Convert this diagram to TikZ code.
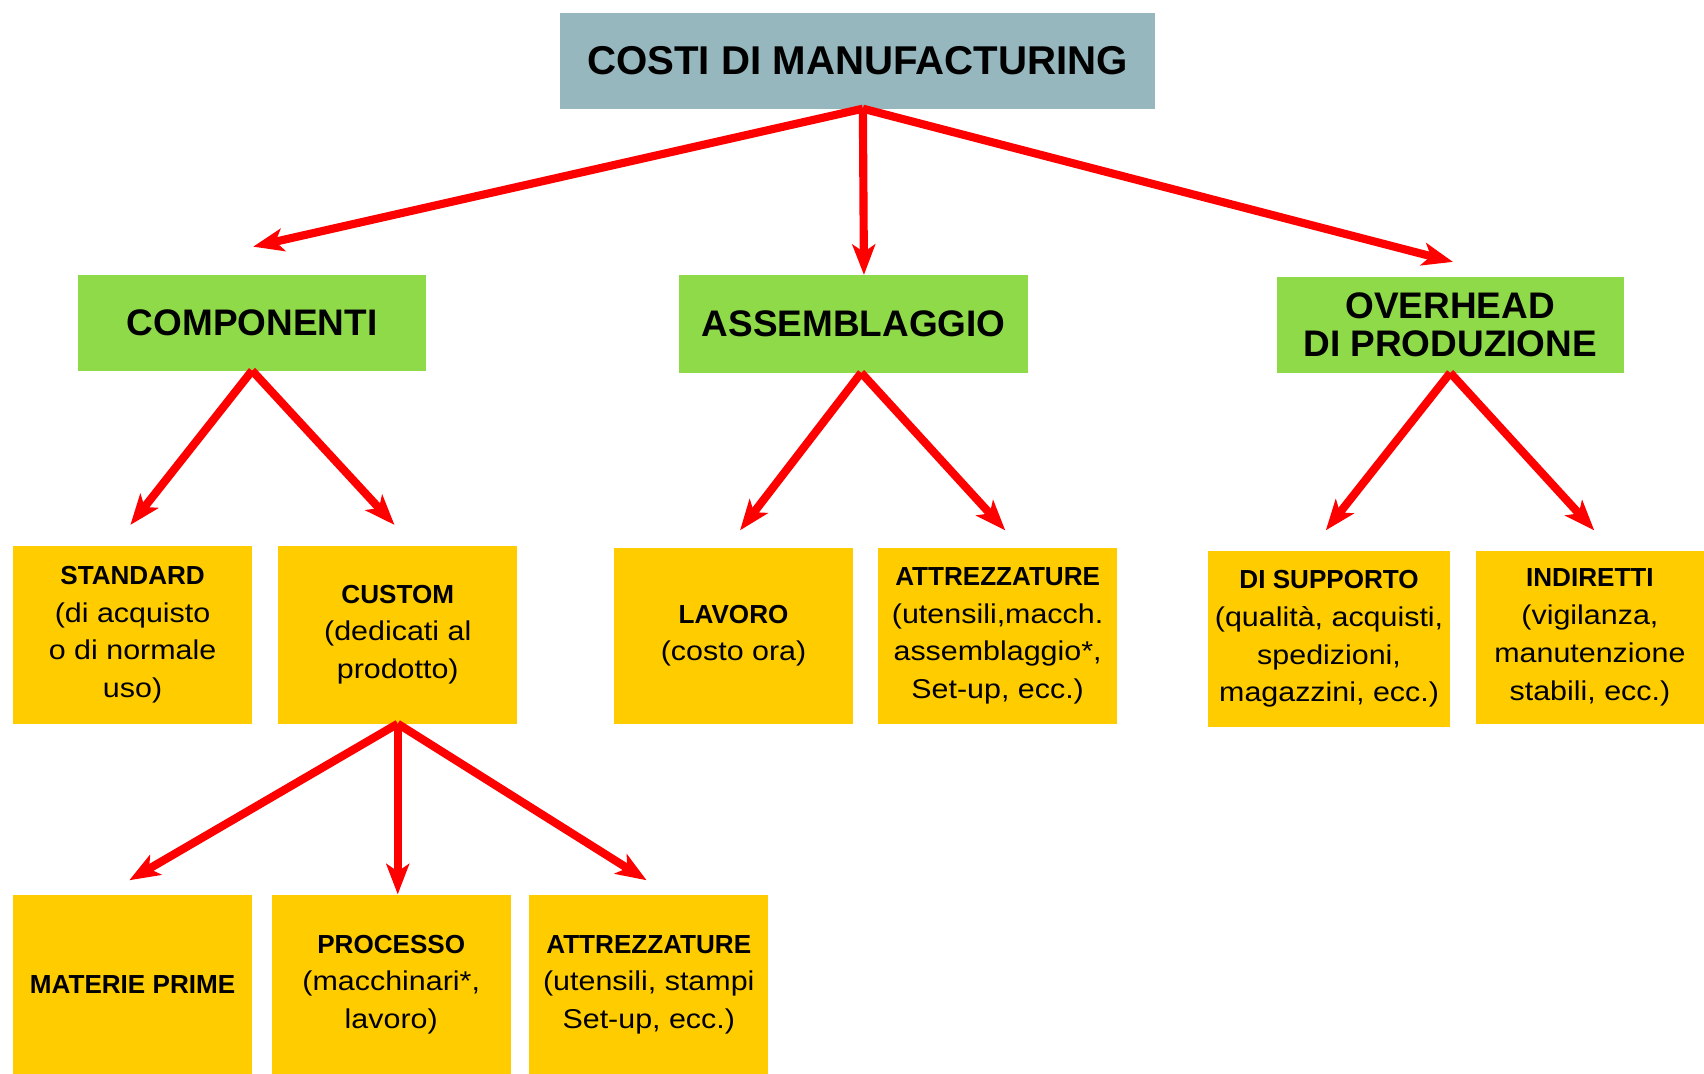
\documentclass[tikz,border=0pt]{standalone}
\usepackage{fontspec}
\setmainfont{Liberation Sans}
\newfontfamily\bodyf[FakeStretch=1.12]{Liberation Sans}
\usetikzlibrary{arrows.meta}
\definecolor{topc}{RGB}{149,183,189}
\definecolor{greenc}{RGB}{142,218,72}
\definecolor{yellowc}{RGB}{255,204,0}
\definecolor{redc}{RGB}{255,0,0}
\tikzset{
  base/.style={inner sep=0pt, outer sep=0pt, align=center, text=black},
  topbox/.style={base, fill=topc, font=\bfseries\fontsize{37}{40}\selectfont},
  greenbox/.style={base, fill=greenc, minimum height=88pt, font=\bfseries\fontsize{34}{34.5}\selectfont},
  yellowbox/.style={base, fill=yellowc, minimum width=220pt, minimum height=162pt, font=\bodyf\fontsize{25}{34.7}\selectfont},
  conn/.style={draw=redc, line width=7.5pt, -{Stealth[length=28pt,width=21pt,inset=7pt]}},
}
\newcommand{\ttl}[1]{{\normalfont\bfseries\fontsize{24}{34.7}\selectfont #1}}
\begin{document}
\begin{tikzpicture}[x=1pt,y=-1pt]
\useasboundingbox (0,0) rectangle (1568,988);
% top
\node[topbox, minimum width=548pt, minimum height=88pt] (top) at (789,56) {COSTI DI MANUFACTURING};
% level 1
\node[greenbox, minimum width=320pt] (comp) at (232,297) {COMPONENTI};
\node[greenbox, minimum width=321pt, minimum height=90pt] (assem) at (785.5,298) {ASSEMBLAGGIO};
\node[greenbox, minimum width=319pt] (over) at (1334.5,299) {OVERHEAD\\DI PRODUZIONE};
% level 2
\node[yellowbox, minimum height=164pt] (std) at (122,584) {\ttl{STANDARD}\\(di acquisto\\o di normale\\uso)};
\node[yellowbox, minimum height=164pt] (cust) at (366,584) {\ttl{CUSTOM}\\(dedicati al\\prodotto)};
\node[yellowbox] (lav) at (675,585) {\ttl{LAVORO}\\(costo ora)};
\node[yellowbox] (attra) at (918,585) {\ttl{ATTREZZATURE}\\(utensili,macch.\\assemblaggio*,\\Set-up, ecc.)};
\node[yellowbox, minimum width=222pt] (supp) at (1223,588) {\ttl{DI SUPPORTO}\\(qualità, acquisti,\\spedizioni,\\magazzini, ecc.)};
\node[yellowbox, minimum width=210pt, minimum height=159pt] (ind) at (1463,586.5) {\ttl{INDIRETTI}\\(vigilanza,\\manutenzione\\stabili, ecc.)};
% level 3
\node[yellowbox, minimum height=164pt] (mat) at (122,906) {\ttl{MATERIE PRIME}};
\node[yellowbox, minimum height=164pt] (proc) at (360,906) {\ttl{PROCESSO}\\(macchinari*,\\lavoro)};
\node[yellowbox, minimum height=164pt] (attrb) at (597,906) {\ttl{ATTREZZATURE}\\(utensili, stampi\\Set-up, ecc.)};
% connector origins and tips
\coordinate (o0) at ([xshift=5pt]top.south);
\coordinate (t1) at (233,227);
\coordinate (t2) at ([xshift=9.5pt]assem.north);
\coordinate (t3) at (1337,241);
\coordinate (c1) at (120,483);
\coordinate (c2) at (363,483);
\coordinate (a1) at (681,488);
\coordinate (a2) at (925,488);
\coordinate (v1) at (1220,488);
\coordinate (v2) at (1467,488);
\coordinate (oc) at (cust.south);
\coordinate (m1) at (119,810);
\coordinate (m2) at (366,823);
\coordinate (m3) at (595,810);
\coordinate (oa) at ([xshift=7pt]assem.south);
\draw[conn] (o0) -- (t1);
\draw[conn] (o0) -- (t2);
\draw[conn] (o0) -- (t3);
\draw[conn] (comp.south) -- (c1);
\draw[conn] (comp.south) -- (c2);
\draw[conn] (oa) -- (a1);
\draw[conn] (oa) -- (a2);
\draw[conn] (over.south) -- (v1);
\draw[conn] (over.south) -- (v2);
\draw[conn] (oc) -- (m1);
\draw[conn] (oc) -- (m2);
\draw[conn] (oc) -- (m3);
\end{tikzpicture}
\end{document}
